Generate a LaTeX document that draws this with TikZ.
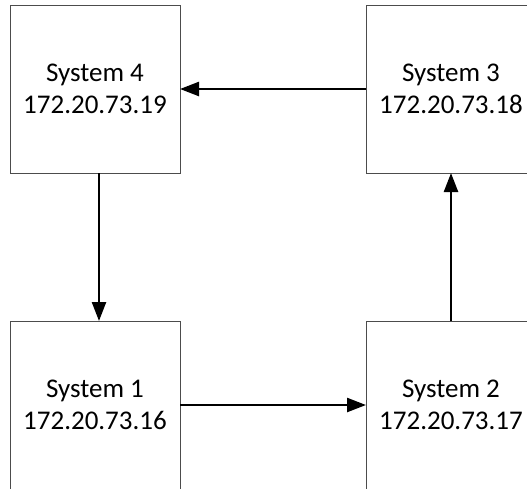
\documentclass[tikz,border=0pt]{standalone}
\usepackage{fontspec}
\setmainfont{Carlito}
\usepackage{tikz}
\usetikzlibrary {arrows.meta}

\begin{document}
\begin{tikzpicture}[
    sysbox/.style={
        rectangle,
        draw=black!70,     % thin grey frame
        line width=0.8pt,
        minimum width=170pt,
        minimum height=168pt,
        outer sep=0pt,     % arrows stop on the frame
        align=center,
        font=\fontsize{27}{32}\selectfont
    },
    link/.style={line width=2.4pt, -{Triangle[length=19pt,width=14pt]}}
]
    \clip (0,0) rectangle (527pt,-488pt); % page frame, boxes run off the edge
    \node[sysbox] (s1) at (95pt,-405pt) {System 1\\172.20.73.16};
    \node[sysbox] (s2) at (451pt,-405pt) {System 2\\172.20.73.17};
    \node[sysbox] (s3) at (451pt,-89pt) {System 3\\172.20.73.18};
    \node[sysbox] (s4) at (95pt,-89pt) {System 4\\172.20.73.19};
    \draw[link] (s1) -- (s2);
    \draw[link] (s2) -- (s3);
    \draw[link] (s3) -- (s4);
    \draw[link] ([xshift=4pt]s4.south) -- ([xshift=4pt]s1.north);
    \end{tikzpicture}
\end{document}
